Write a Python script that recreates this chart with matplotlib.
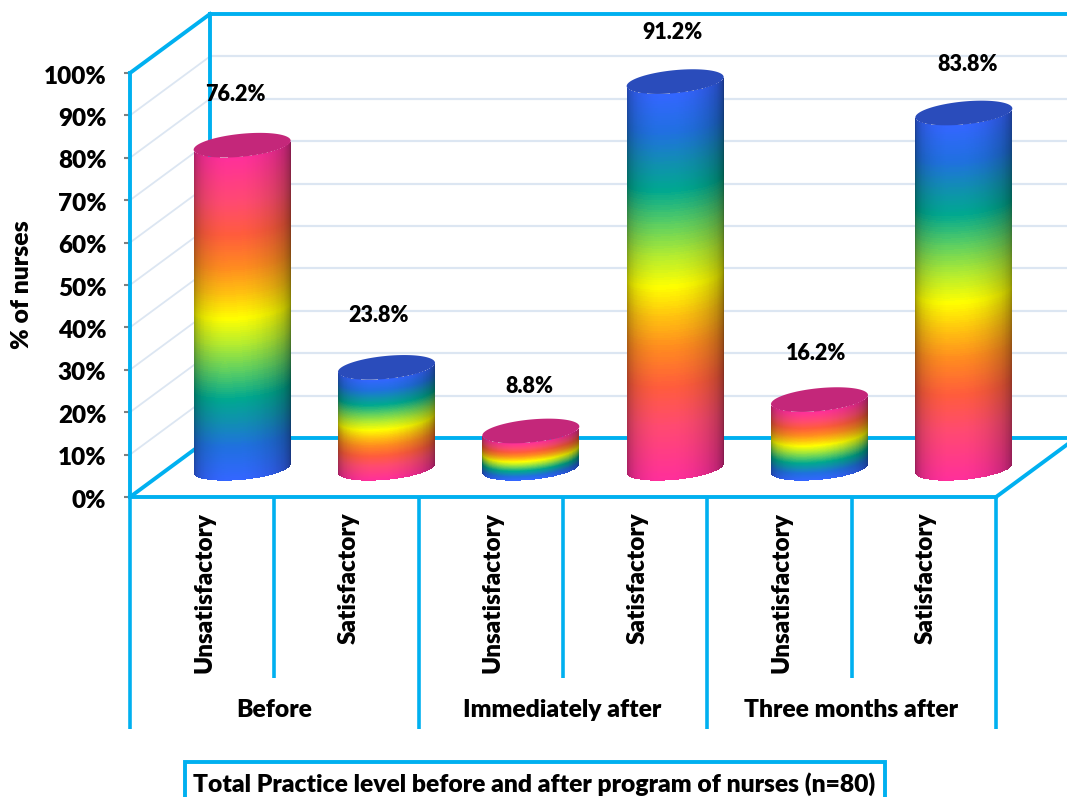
import numpy as np
import matplotlib
matplotlib.use("Agg")
import matplotlib.pyplot as plt
from matplotlib.colors import LinearSegmentedColormap
from matplotlib.transforms import ScaledTranslation

# Survey results: practice level of nurses at three time points
groups = ["Before", "Immediately after", "Three months after"]
levels = ["Unsatisfactory", "Satisfactory", "Unsatisfactory", "Satisfactory", "Unsatisfactory", "Satisfactory"]
percent = [76.2, 23.8, 8.8, 91.2, 16.2, 83.8]
blue_on_top = [False, True, False, True, False, True]
y_ticks = list(range(0, 101, 10))
title = "Total Practice level before and after program of nurses (n=80)"

W, H = 1067, 797
CYAN = "#00B0F0"
GRID = "#DCE6F2"
INK = "black"
WEIGHT = 800
plt.rcParams["font.family"] = ["Lato", "DejaVu Sans"]

fig = plt.figure(figsize=(W / 100, H / 100), dpi=100)
ax = fig.add_axes([130 / W, 1 - 497 / H, 866 / W, 424 / H])
ax.set_xlim(0, 6)
ax.set_ylim(0, 100)
for s in ax.spines.values():
    s.set_visible(False)
ax.patch.set_alpha(0)

# Oblique depth of the box, in data units
px_x = 6 / 866
px_y = 100 / 424
dx, dy = 80 * px_x, 59 * px_y


def line(xs, ys, color=CYAN, lw=2.8, z=2):
    ax.plot(xs, ys, color=color, lw=lw, clip_on=False, zorder=z, solid_capstyle="projecting")


# Walls: gridlines on the left wall and on the back wall
for v in y_ticks[1:-1]:
    line([0, dx], [v, v + dy], GRID, 1.3, 1)
    line([dx, 6 + dx], [v + dy, v + dy], GRID, 1.6, 1)

# Box outline
line([0, 0], [0, 100])
line([0, dx], [100, 100 + dy])
line([dx, dx], [dy, 100 + dy])
line([dx, 6 + dx], [100 + dy, 100 + dy])
line([dx, 6 + dx], [dy, dy])
line([0, dx], [0, dy])
line([6, 6 + dx], [0, dy])
line([0, 6], [0, 0], z=4)

# Category and group separators beneath the floor
sep_low, group_low = -42.7, -54.7
for i in range(7):
    ax.plot([i, i], [0, sep_low], color=CYAN, lw=2.6, clip_on=False, zorder=2, solid_capstyle="butt")
for i in range(0, 7, 2):
    ax.plot([i, i], [sep_low, group_low], color=CYAN, lw=2.6, clip_on=False, zorder=2, solid_capstyle="butt")

# Cylinders
ramp = LinearSegmentedColormap.from_list(
    "bands",
    [(0.00, "#FF2F9A"), (0.14, "#FF4A70"), (0.24, "#FF5C3C"), (0.34, "#FF8A20"),
     (0.42, "#FFC010"), (0.50, "#FFFF00"), (0.58, "#B4EC30"), (0.66, "#60D060"),
     (0.75, "#00A890"), (0.82, "#1090B0"), (0.90, "#2070E0"), (1.00, "#3366FF")],
)
radius = 48.5 * px_x
minor = 11.5 * px_y
tilt = 4.5 * px_y
theta = np.linspace(np.pi, 2 * np.pi, 121)
theta_mid = 0.5 * (theta[:-1] + theta[1:])
# Side falloff, a little deeper on the right
shade = ((0.5 + 0.5 * np.sin(theta_mid - np.pi) ** 0.8) * (1 - 0.07 * np.cos(theta_mid)))
shade = np.clip(shade, 0, 1)[None, :, None]

for i, (val, flip) in enumerate(zip(percent, blue_on_top)):
    cx = i + 0.5 + dx / 2
    base = dy / 2 - 0.8 * px_y
    steps = np.linspace(val, 0, 161)
    X = np.tile(cx + radius * np.cos(theta), (steps.size, 1))
    Y = base + steps[:, None] + tilt * np.cos(theta)[None, :] + minor * np.sin(theta)[None, :]
    frac = 0.5 * (steps[:-1] + steps[1:]) / val
    frac = frac if flip else 1 - frac
    rgb = ramp(frac)[:, :3][:, None, :] * shade
    ax.pcolormesh(X, Y, rgb, shading="flat", antialiased=False, linewidth=0, zorder=5, clip_on=False)
    t = np.linspace(0, 2 * np.pi, 200)
    ax.fill(cx + radius * np.cos(t),
            base + val + tilt * np.cos(t) + minor * np.sin(t),
            color="#2A4CBB" if flip else "#C4277A", lw=0, zorder=6, clip_on=False)

# Value labels above each cylinder
label_lift = [50, 51, 44, 48, 45, 48]
label_shift = [-7, -8, -1, -3, -3, 4]
for i, val in enumerate(percent):
    top_x = i + 0.5 + dx / 2
    top_y = dy / 2 + val
    ax.annotate(f"{val:.1f}%", (top_x, top_y), xytext=(label_shift[i], label_lift[i]),
                textcoords="offset pixels", ha="center", va="center",
                fontsize=15.5, fontweight=WEIGHT, color=INK, zorder=8, annotation_clip=False)

# Axis ticks and labels
ax.set_yticks(y_ticks)
ax.set_yticklabels([f"{v}%" for v in y_ticks], fontsize=17.5, fontweight=WEIGHT, color=INK)
ax.set_xticks([])
ax.tick_params(axis="y", length=4, width=1.5, color="#808080", pad=13)
nudge = ScaledTranslation(0, -1.5 / 100, fig.dpi_scale_trans)
for lab in ax.get_yticklabels():
    lab.set_transform(lab.get_transform() + nudge)
fig.text(22 / W, 1 - 285 / H, "% of nurses", rotation=90, ha="center", va="center",
         fontsize=17.8, fontweight=WEIGHT, color=INK)

for i, name in enumerate(levels):
    ax.text(i + 0.515, -3.6, name, rotation=90, ha="center", va="top",
            fontsize=17.5, fontweight=WEIGHT, color=INK, clip_on=False)
for j, name in enumerate(groups):
    ax.text(2 * j + 1 - 0.003, -50.2, name, ha="center", va="center",
            fontsize=17.7, fontweight=WEIGHT, color=INK, clip_on=False)

# Boxed caption along the bottom edge
fig.text(534 / W, 1 - 784 / H, title, ha="center", va="center", fontsize=17.7,
         fontweight=WEIGHT, color=INK)
fig.add_artist(plt.Rectangle((185 / W, 1 - 810 / H), 700 / W, 48 / H, fill=False,
                             edgecolor=CYAN, lw=2.8, transform=fig.transFigure))

fig.savefig("out.png", dpi=100, facecolor="white")
